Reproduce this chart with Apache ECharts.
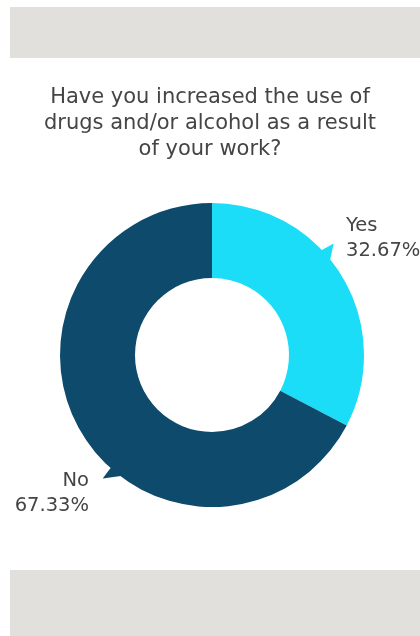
<!DOCTYPE html>
<html><head><meta charset="utf-8">
<script src="https://cdn.jsdelivr.net/npm/echarts@6/dist/echarts.min.js"></script>
<style>html,body{margin:0;padding:0;background:#fff}#c{width:420px;height:636px}</style>
</head><body><div id="c"></div>
<script>
const titleLines = ["Have you increased the use of", "drugs and/or alcohol as a result", "of your work?"];
const categories = ["Yes", "No"];
const values = [32.67, 67.33];
const colors = ["#1BDDF7", "#0D4A6B"];

const chart = echarts.init(document.getElementById('c'));
const FONT = 'DejaVu Sans';
const labelPos = [
  { x: 346, y: 238, align: 'left' },
  { x: 89, y: 493, align: 'right' }
];
// pointer triangles: [base start, base end, tip] angles, degrees clockwise from top
const pointerAngles = [[46, 52, 47.5], [216, 222, 221.5]];

const bands = [
  { type: 'rect', id: 'bandTop', shape: { x: 10, y: 7, width: 410, height: 51 }, style: { fill: '#e1e0dc' }, z: -1 },
  { type: 'rect', id: 'bandBottom', shape: { x: 10, y: 570, width: 410, height: 66 }, style: { fill: '#e1e0dc' }, z: -1 }
];

chart.setOption({
  backgroundColor: '#ffffff',
  animation: false,
  title: {
    text: titleLines.join('\n'),
    left: 'center',
    top: 80,
    textStyle: { fontFamily: FONT, fontSize: 21, fontWeight: 'normal', color: '#454545', lineHeight: 26 }
  },
  graphic: bands,
  series: [{
    type: 'pie',
    center: [212, 355],
    radius: [77, 152],
    startAngle: 90,
    clockwise: true,
    avoidLabelOverlap: false,
    data: categories.map((c, i) => ({ name: c, value: values[i], itemStyle: { color: colors[i] } })),
    label: {
      show: true,
      position: 'outside',
      formatter: p => p.name + '\n' + p.value.toFixed(2) + '%',
      fontFamily: FONT,
      fontSize: 19.5,
      lineHeight: 25,
      color: '#454545'
    },
    labelLine: { show: false },
    labelLayout: p => {
      const lp = labelPos[p.dataIndex];
      return { x: lp.x, y: lp.y, align: lp.align, verticalAlign: 'middle' };
    },
    emphasis: { disabled: true }
  }]
});

// pointers computed from the library's own pie layout
const data = chart.getModel().getSeriesByIndex(0).getData();
const lay = data.getItemLayout(0);
const pointers = pointerAngles.map((a, i) => {
  const pt = (deg, r) => {
    const t = deg * Math.PI / 180;
    return [lay.cx + r * Math.sin(t), lay.cy - r * Math.cos(t)];
  };
  const R = lay.r;
  return {
    type: 'polygon',
    id: 'pointer' + i,
    shape: { points: [pt(a[0], R - 3), pt(a[2], R + 13), pt(a[1], R - 3)] },
    style: { fill: colors[i] },
    z: 10
  };
});
chart.setOption({ graphic: bands.concat(pointers) });
</script>
</body></html>
